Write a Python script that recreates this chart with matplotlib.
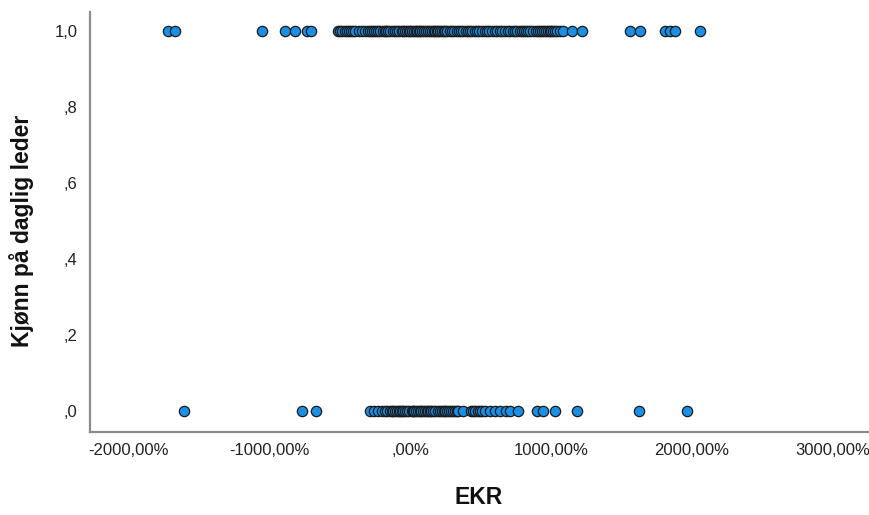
import matplotlib
matplotlib.use("Agg")
import matplotlib.pyplot as plt
from matplotlib.ticker import FuncFormatter, FixedLocator

plt.rcParams['font.family'] = ['Liberation Sans', 'DejaVu Sans']

# EKR values (%) for Kjønn = 1
ekr_group1 = [-1716, -1667, -1050, -887, -816, -730, -702,
              -511, -495, -480, -462, -447, -430, -420, -405, -390, -362, -340,
              -320, -300, -285, -270, -255, -240, -225, -213, -195, -180, -168,
              -156, -140, -120, -105, -92, -75, -60, -48, -35, -22, -10, 2, 14,
              28, 40, 50, 60, 72, 85, 98, 110, 125, 142, 155, 170, 180, 190, 200,
              213, 227, 240, 250, 262, 280, 300, 315, 333, 350, 362, 376, 395,
              411, 425, 440, 458, 475, 490, 511, 530, 546, 563, 580, 600, 617,
              635, 650, 672, 695, 712, 730, 745, 760, 778, 794, 808, 820, 836,
              851, 870, 890, 905, 922, 935, 950, 965, 979, 990, 1000, 1015, 1028,
              1045, 1064, 1085, 1149, 1220,
              1560, 1631, 1809, 1844, 1879, 2057]
# EKR values (%) for Kjønn = 0
ekr_group0 = [-1603, -766, -667,
              -284, -255, -227, -200, -177, -160, -142, -130, -120, -105, -92,
              -80, -70, -60, -50, -35, -20, -5, 14, 22, 30, 45, 57, 68, 80, 92,
              106, 118, 130, 140, 150, 165, 177, 195, 213, 228, 240, 250, 262,
              275, 290, 305, 319, 330, 340, 376, 430, 445, 461, 480, 495, 511,
              530, 567, 600, 638, 680, 709, 766, 901, 943, 1028, 1184,
              1624, 1965]

x_ticks = [-2000, -1000, 0, 1000, 2000, 3000]
y_ticks = [0.0, 0.2, 0.4, 0.6, 0.8, 1.0]

fig = plt.figure(figsize=(8.7, 5.15), dpi=100)
ax = fig.add_axes([90/870, 1-432/515, 778/870, 420/515])

face = '#1a8fe3'
edge = '#1a1a1a'
ax.scatter(ekr_group1, [1.0]*len(ekr_group1), s=55, c=face, edgecolors=edge, linewidths=0.9, zorder=3)
ax.scatter(ekr_group0, [0.0]*len(ekr_group0), s=55, c=face, edgecolors=edge, linewidths=0.9, zorder=3)

ax.set_xlim(-2270, 3248)
ax.set_ylim(-0.0553, 1.05)

def xfmt(v, pos):
    s = f"{v:.2f}".replace('.', ',')
    if s.startswith('0,'):
        s = s[1:]
    return s + '%'

def yfmt(v, pos):
    s = f"{v:.1f}".replace('.', ',')
    if s.startswith('0,'):
        s = s[1:]
    return s

ax.xaxis.set_major_locator(FixedLocator(x_ticks))
ax.yaxis.set_major_locator(FixedLocator(y_ticks))
ax.xaxis.set_major_formatter(FuncFormatter(xfmt))
ax.yaxis.set_major_formatter(FuncFormatter(yfmt))
ax.tick_params(axis='both', length=0, labelsize=12, colors='#222222')
ax.tick_params(axis='x', pad=8)
ax.tick_params(axis='y', pad=9)

for side in ['top', 'right']:
    ax.spines[side].set_visible(False)
for side in ['left', 'bottom']:
    ax.spines[side].set_color('#8c8c8c')
    ax.spines[side].set_linewidth(1.6)

ax.set_xlabel('EKR', fontsize=16.5, fontweight='bold', color='#111111')
ax.set_ylabel('Kjønn på daglig leder', fontsize=16.5, fontweight='bold', color='#111111')
ax.xaxis.set_label_coords(0.5, -0.128)
ax.yaxis.set_label_coords(-0.072, 0.48)

fig.savefig('out.png', dpi=100, facecolor='white')
